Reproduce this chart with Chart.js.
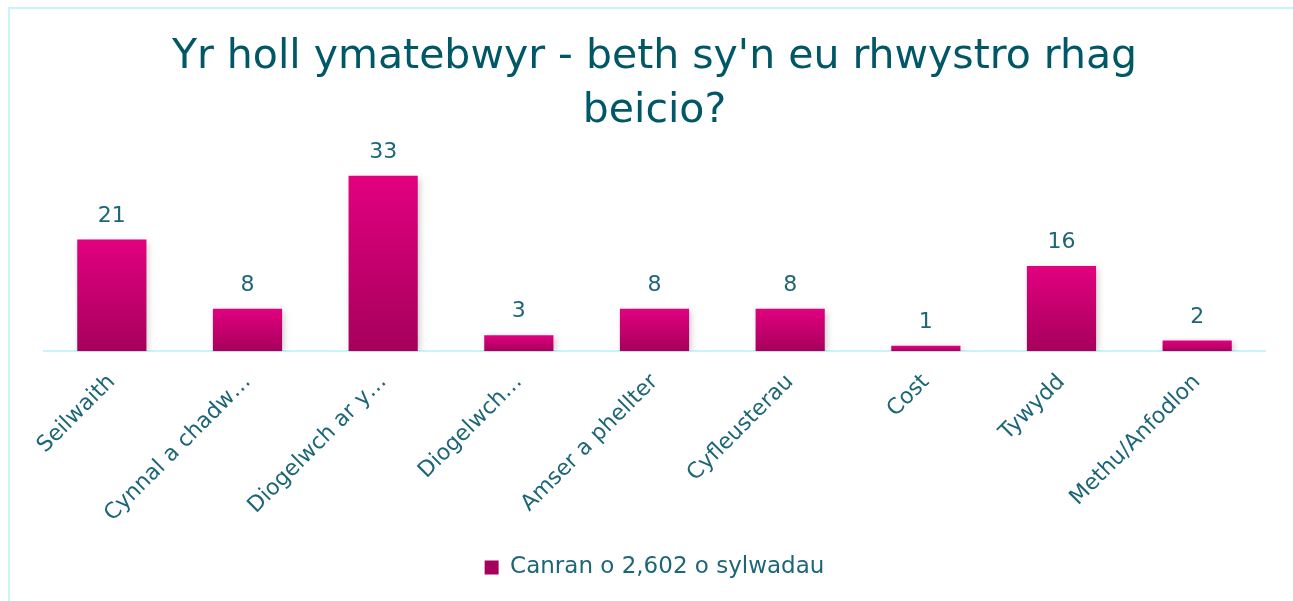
<!DOCTYPE html>
<html>
<head>
<meta charset="utf-8">
<script src="https://cdn.jsdelivr.net/npm/chart.js@4.4.0/dist/chart.umd.min.js"></script>
<style>
  html, body { margin: 0; padding: 0; background: #fff; overflow: hidden; }
  #wrap { position: relative; width: 1293px; height: 601px; }
  #frame { position: absolute; left: 8px; top: 7px; width: 1400px; height: 700px;
           border-top: 2px solid #c9f4fb; border-left: 2px solid #c9f4fb; }
  canvas { position: absolute; left: 0; top: 0; }
</style>
</head>
<body>
<div id="wrap">
  <div id="frame"></div>
  <canvas id="chart" width="1293" height="601"></canvas>
</div>
<script>
// Bar chart: share of comments per barrier to cycling (Welsh labels).

const CATEGORIES = [
  "Seilwaith", "Cynnal a chadw…", "Diogelwch ar y…", "Diogelwch…",
  "Amser a phellter", "Cyfleusterau", "Cost", "Tywydd", "Methu/Anfodlon",
];
const VALUES = [21, 8, 33, 3, 8, 8, 1, 16, 2];
const SERIES_LABEL = "Canran o 2,602 o sylwadau";
const TITLE_LINES = ["Yr holl ymatebwyr - beth sy'n eu rhwystro rhag", "beicio?"];
const Y_MAX = 35;

const FONT = '"DejaVu Sans", "Noto Sans", sans-serif';
const TEAL = "#005866";
const TEXT = "#1d6677";

// each bar gets its own top-to-bottom gradient
function barFill(ctx) {
  const chart = ctx.chart;
  if (!chart.chartArea || ctx.type !== "data") return "#c8006f";
  const y = chart.scales.y;
  const top = y.getPixelForValue(ctx.raw);
  const base = y.getPixelForValue(0);
  const g = chart.ctx.createLinearGradient(0, top, 0, base);
  g.addColorStop(0, "#e2007f");
  g.addColorStop(1, "#a6005c");
  return g;
}

// soft drop shadow under the bars
const barShadow = {
  id: "barShadow",
  beforeDatasetsDraw(chart) {
    const c = chart.ctx;
    c.save();
    c.shadowColor = "rgba(0,0,0,0.22)";
    c.shadowBlur = 7;
    c.shadowOffsetX = 2;
    c.shadowOffsetY = 2;
  },
  afterDatasetsDraw(chart) {
    chart.ctx.restore();
  },
};

// value labels above each bar
const valueLabels = {
  id: "valueLabels",
  afterDraw(chart) {
    const c = chart.ctx;
    const meta = chart.getDatasetMeta(0);
    c.save();
    c.font = `22px ${FONT}`;
    c.fillStyle = TEXT;
    c.textAlign = "center";
    c.textBaseline = "alphabetic";
    meta.data.forEach((bar, i) => {
      c.fillText(String(VALUES[i]), bar.x, bar.y - 18);
    });
    c.restore();
  },
};

new Chart(document.getElementById("chart"), {
  type: "bar",
  data: {
    labels: CATEGORIES,
    datasets: [{
      label: SERIES_LABEL,
      data: VALUES,
      backgroundColor: barFill,
      borderWidth: 0,
      categoryPercentage: 1,
      barPercentage: 0.51,
    }],
  },
  options: {
    responsive: false,
    animation: false,
    layout: { padding: { left: 44, right: 28, top: 0, bottom: 12 } },
    plugins: {
      title: {
        display: true,
        text: TITLE_LINES,
        color: TEAL,
        font: { family: FONT, size: 41, weight: "normal", lineHeight: 1.33 },
        padding: { top: 30, bottom: 26 },
      },
      legend: {
        position: "bottom",
        labels: {
          color: TEXT,
          font: { family: FONT, size: 23 },
          boxWidth: 14,
          boxHeight: 14,
          padding: 19,
        },
      },
      tooltip: { enabled: false },
    },
    scales: {
      x: {
        grid: { display: false },
        border: { color: "#c9f4fb", width: 2 },
        ticks: {
          color: TEXT,
          font: { family: FONT, size: 22 },
          autoSkip: false,
          minRotation: 45,
          maxRotation: 45,
          padding: 10,
        },
      },
      y: { display: false, min: 0, max: Y_MAX },
    },
  },
  plugins: [barShadow, valueLabels],
});
</script>
</body>
</html>
